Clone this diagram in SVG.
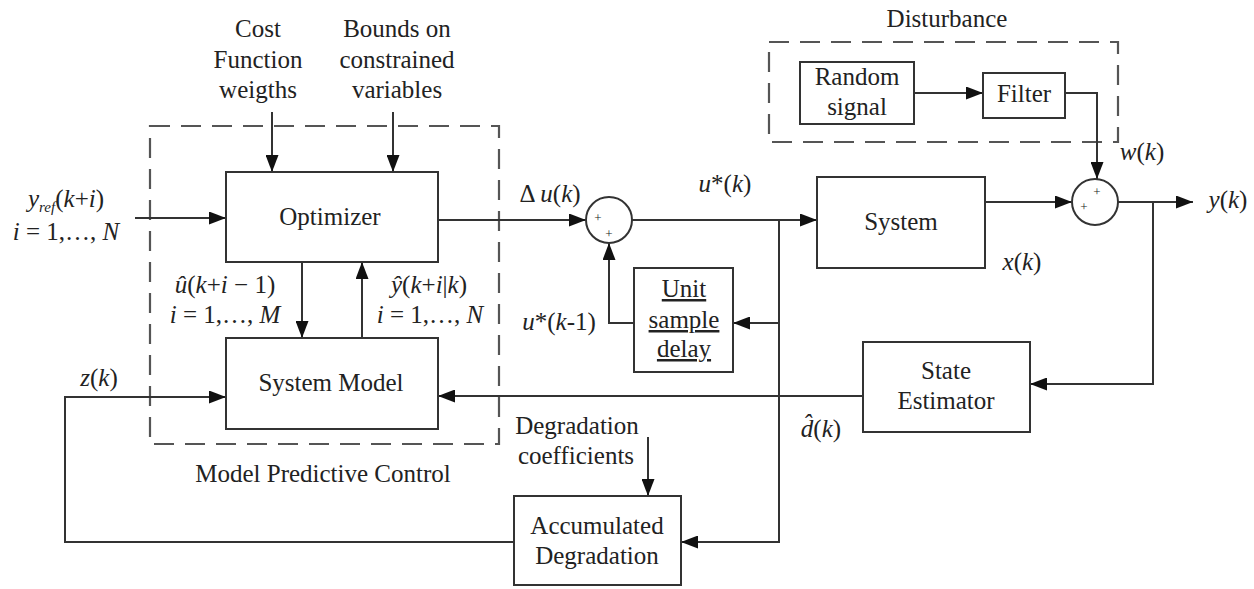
<svg xmlns="http://www.w3.org/2000/svg" width="1254" height="589" viewBox="0 0 1254 589">
<defs>
<marker id="arr" markerUnits="userSpaceOnUse" markerWidth="18" markerHeight="13" refX="17" refY="6.5" orient="auto">
<path d="M0,0 L17,6.5 L0,13 z" fill="#111"/>
</marker>
<style>
text{font-family:"Liberation Serif",Tinos,"Times New Roman",Times,"DejaVu Serif",serif;font-size:25px;fill:#222;text-anchor:middle}
.it{font-style:italic}
.sm{font-size:15px}
.pl{font-size:13px}
.box{fill:#fff;stroke:#333;stroke-width:2}
.dash{fill:none;stroke:#555;stroke-width:2.2;stroke-dasharray:20 11}
.ln{fill:none;stroke:#333;stroke-width:2}
.a{marker-end:url(#arr)}
.u{text-decoration:underline}
</style>
</defs>
<rect width="1254" height="589" fill="#fff"/>

<g id="mpc-frame">
<rect class="dash" x="150" y="126" width="349" height="318"/>
<text x="323" y="482">Model Predictive Control</text>
</g>
<g id="disturbance-frame">
<rect class="dash" x="769" y="42" width="349" height="100"/>
<text x="947" y="27">Disturbance</text>
</g>

<g id="connectors">
<path class="ln a" d="M272,112 V172"/>
<path class="ln a" d="M393,112 V172"/>
<path class="ln a" d="M135,218 H226"/>
<path class="ln a" d="M438,220 H586"/>
<path class="ln a" d="M302,262 V338"/>
<path class="ln a" d="M362,338 V262"/>
<path class="ln a" d="M632,220 H817"/>
<path class="ln a" d="M985,202 H1072"/>
<path class="ln a" d="M1118,202 H1193"/>
<path class="ln a" d="M914,93 H983"/>
<path class="ln a" d="M1065,93 H1097 V179"/>
<path class="ln a" d="M779,220 V323 H733"/>
<path class="ln a" d="M634,323 H609 V243"/>
<path class="ln a" d="M779,323 V542 H681"/>
<path class="ln a" d="M1153,202 V384 H1030"/>
<path class="ln a" d="M863,396 H438"/>
<path class="ln a" d="M514,542 H65 V397 H226"/>
<path class="ln a" d="M648,437 V496"/>
</g>

<g id="cost-label">
<text x="258" y="37">Cost</text>
<text x="258" y="68">Function</text>
<text x="258" y="98">weigths</text>
</g>
<g id="bounds-label">
<text x="397" y="37">Bounds on</text>
<text x="397" y="68">constrained</text>
<text x="397" y="98">variables</text>
</g>
<g id="yref-label">
<text x="66" y="207"><tspan class="it">y</tspan><tspan class="it sm" dy="5">ref</tspan><tspan dy="-5">(</tspan><tspan class="it">k</tspan>+<tspan class="it">i</tspan>)</text>
<text x="66" y="240"><tspan class="it">i</tspan> = 1,…, <tspan class="it">N</tspan></text>
</g>

<g id="optimizer">
<rect class="box" x="226" y="172" width="212" height="90"/>
<text x="330" y="225">Optimizer</text>
</g>
<g id="uhat-label">
<text x="225" y="293"><tspan class="it">û</tspan>(<tspan class="it">k</tspan>+<tspan class="it">i</tspan> − 1)</text>
<text x="225" y="323"><tspan class="it">i</tspan> = 1,…, <tspan class="it">M</tspan></text>
</g>
<g id="yhat-label">
<text x="429" y="293"><tspan class="it">ŷ</tspan>(<tspan class="it">k</tspan>+<tspan class="it">i</tspan>|<tspan class="it">k</tspan>)</text>
<text x="430" y="323"><tspan class="it">i</tspan> = 1,…, <tspan class="it">N</tspan></text>
</g>
<g id="system-model">
<rect class="box" x="226" y="338" width="212" height="91"/>
<text x="331" y="391">System Model</text>
</g>
<g id="zk-label"><text x="99" y="386"><tspan class="it">z</tspan>(<tspan class="it">k</tspan>)</text></g>

<g id="sum1">
<circle cx="609" cy="220" r="23" class="box"/>
<text class="pl" x="598" y="222">+</text>
<text class="pl" x="609" y="238">+</text>
</g>
<g id="du-label"><text x="550" y="202">Δ <tspan class="it">u</tspan>(<tspan class="it">k</tspan>)</text></g>
<g id="ustar-label"><text x="725" y="192"><tspan class="it">u</tspan>*(<tspan class="it">k</tspan>)</text></g>

<g id="delay">
<rect class="box" x="634" y="268" width="99" height="104"/>
<text class="u" x="684" y="297">Unit</text>
<text class="u" x="684" y="328">sample</text>
<text class="u" x="684" y="357">delay</text>
</g>
<g id="ustar1-label"><text x="559" y="330"><tspan class="it">u</tspan>*(<tspan class="it">k</tspan>-1)</text></g>

<g id="system">
<rect class="box" x="817" y="177" width="168" height="91"/>
<text x="901" y="230">System</text>
</g>
<g id="xk-label"><text x="1022" y="270"><tspan class="it">x</tspan>(<tspan class="it">k</tspan>)</text></g>

<g id="random-signal">
<rect class="box" x="800" y="62" width="114" height="62"/>
<text x="857" y="85">Random</text>
<text x="857" y="115">signal</text>
</g>
<g id="filter">
<rect class="box" x="983" y="73" width="82" height="45"/>
<text x="1024" y="102">Filter</text>
</g>
<g id="wk-label"><text x="1142" y="160"><tspan class="it">w</tspan>(<tspan class="it">k</tspan>)</text></g>

<g id="sum2">
<circle cx="1095" cy="202" r="23" class="box"/>
<text class="pl" x="1097" y="196">+</text>
<text class="pl" x="1084" y="211">+</text>
</g>
<g id="yk-label"><text x="1228" y="208"><tspan class="it">y</tspan>(<tspan class="it">k</tspan>)</text></g>

<g id="state-estimator">
<rect class="box" x="863" y="342" width="167" height="90"/>
<text x="946" y="379">State</text>
<text x="946" y="409">Estimator</text>
</g>
<g id="dhat-label">
<text x="821" y="437"><tspan class="it">d̂</tspan>(<tspan class="it">k</tspan>)</text>
</g>

<g id="degradation-coeff-label">
<text x="577" y="434">Degradation</text>
<text x="576" y="464">coefficients</text>
</g>
<g id="accumulated-degradation">
<rect class="box" x="514" y="496" width="167" height="89"/>
<text x="597" y="534">Accumulated</text>
<text x="597" y="564">Degradation</text>
</g>
</svg>
